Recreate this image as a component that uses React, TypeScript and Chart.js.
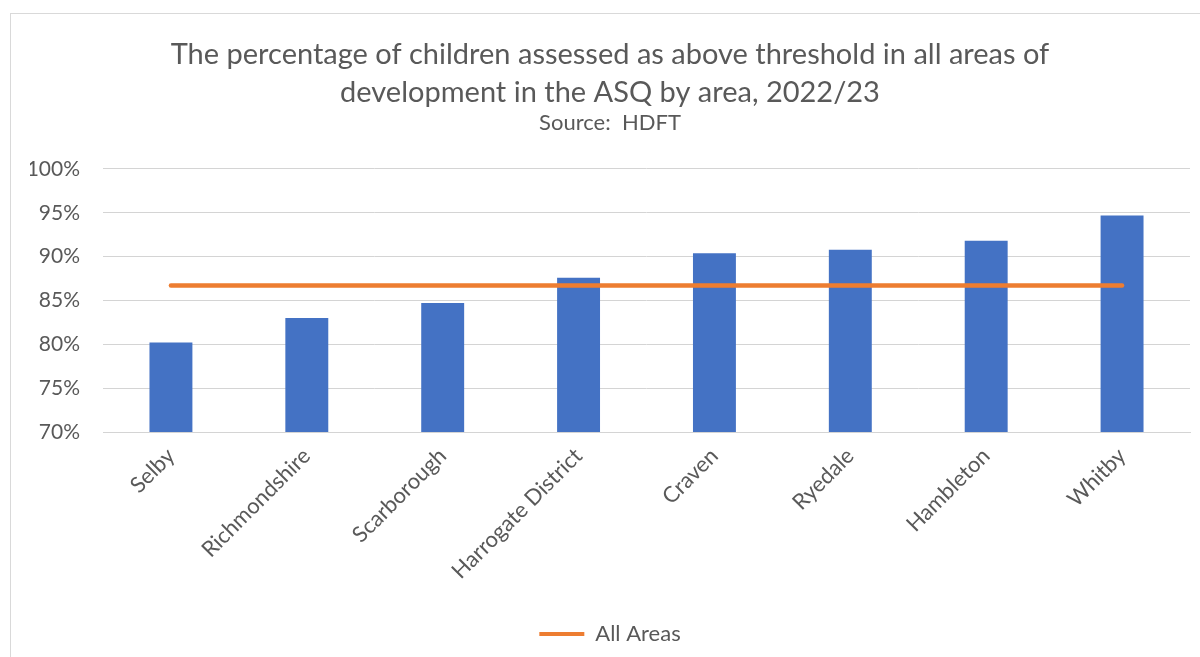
import React, { useEffect, useRef } from "react";
import { Chart, registerables } from "chart.js";

Chart.register(...registerables);

const categories: string[] = [
  "Selby",
  "Richmondshire",
  "Scarborough",
  "Harrogate District",
  "Craven",
  "Ryedale",
  "Hambleton",
  "Whitby",
];
const areaValues: number[] = [80.2, 83.0, 84.7, 87.6, 90.4, 90.8, 91.8, 94.7];
const allAreasValues: number[] = [86.7, 86.7, 86.7, 86.7, 86.7, 86.7, 86.7, 86.7];
const titleLines: string[] = [
  "The percentage of children assessed as above threshold in all areas of",
  "development in the ASQ by area, 2022/23",
];
const subtitleText = "Source:  HDFT";
const legendLabel = "All Areas";
const yMin = 70;
const yMax = 100;
const yStep = 5;

const FONT = "Lato";
const TEXT = "#595959";
const BAR = "#4472C4";
const LINE = "#ED7D31";
const GRID = "#d4d4d4";

export default function App() {
  const ref = useRef<HTMLCanvasElement | null>(null);

  useEffect(() => {
    document.body.style.margin = "0";
    const canvas = ref.current;
    if (!canvas) return;
    const chart = new Chart(canvas, {
      type: "bar",
      data: {
        labels: categories,
        datasets: [
          {
            type: "line",
            label: legendLabel,
            data: allAreasValues,
            borderColor: LINE,
            backgroundColor: LINE,
            borderWidth: 4.5,
            borderCapStyle: "round",
            pointRadius: 0,
            pointHoverRadius: 0,
            order: 0,
          } as any,
          {
            type: "bar",
            label: "Area",
            data: areaValues,
            backgroundColor: BAR,
            borderWidth: 0,
            categoryPercentage: 1,
            barPercentage: 0.316,
            order: 1,
          } as any,
        ],
      },
      options: {
        responsive: true,
        maintainAspectRatio: false,
        animation: false,
        layout: { padding: { left: 30, right: 10, top: 0, bottom: 2 } },
        plugins: {
          tooltip: { enabled: false },
          title: {
            display: true,
            text: titleLines,
            color: TEXT,
            font: { family: FONT, size: 29, weight: "normal", lineHeight: 1.31 },
            padding: { top: 36, bottom: 0 },
          },
          subtitle: {
            display: true,
            text: subtitleText,
            color: TEXT,
            font: { family: FONT, size: 22, weight: "normal", lineHeight: 1.0 },
            padding: { top: 0, bottom: 35 },
          },
          legend: {
            display: true,
            position: "bottom",
            labels: {
              color: TEXT,
              font: { family: FONT, size: 22 },
              boxWidth: 45,
              boxHeight: 4,
              padding: 10,
              generateLabels: (c: any) => {
                const items = (Chart.defaults.plugins.legend.labels as any).generateLabels(c);
                return items
                  .filter((i: any) => i.text === legendLabel)
                  .map((i: any) => ({ ...i, lineWidth: 0, fillStyle: LINE, strokeStyle: LINE }));
              },
            },
          },
        },
        scales: {
          x: {
            grid: { display: false, drawTicks: false },
            border: { display: true, color: GRID, width: 1 },
            ticks: {
              color: TEXT,
              font: { family: FONT, size: 22 },
              autoSkip: false,
              maxRotation: 45,
              minRotation: 45,
              padding: 11,
            },
            afterFit: (s: any) => {
              s.height = 181;
            },
          },
          y: {
            min: yMin,
            max: yMax,
            grid: { color: GRID, drawTicks: false, lineWidth: 1 },
            border: { display: false },
            ticks: {
              stepSize: yStep,
              color: TEXT,
              font: { family: FONT, size: 21 },
              padding: 23,
              callback: (v: any) => `${v}%`,
            },
            afterFit: (s: any) => {
              s.width = 73;
            },
          },
        },
      },
    });
    return () => chart.destroy();
  }, []);

  return (
    <div style={{ position: "fixed", left: 0, top: 0, width: 1200, height: 657, background: "#fff" }}>
      <div
        style={{
          position: "absolute",
          left: 10,
          top: 13,
          width: 1200,
          height: 700,
          border: `1px solid #d9d9d9`,
          boxSizing: "border-box",
        }}
      />
      <div style={{ position: "absolute", left: 0, top: 0, width: 1200, height: 657 }}>
        <canvas ref={ref} />
      </div>
    </div>
  );
}
